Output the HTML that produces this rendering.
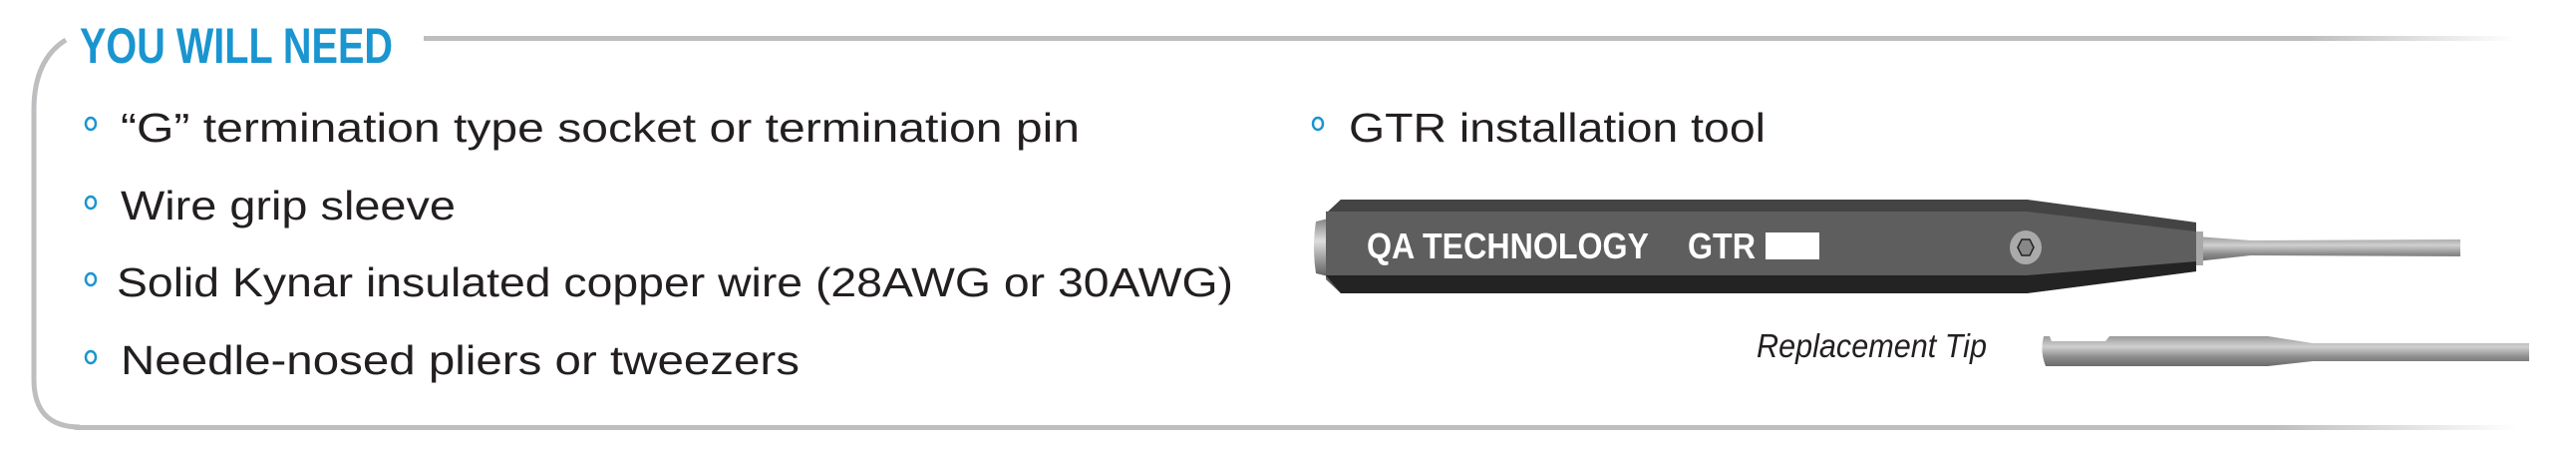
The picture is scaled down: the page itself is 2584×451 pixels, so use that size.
<!DOCTYPE html>
<html><head><meta charset="utf-8"><style>
html,body{margin:0;padding:0;background:#fff;}
svg{display:block}
</style></head><body>
<svg width="2584" height="451" viewBox="0 0 2584 451" xmlns="http://www.w3.org/2000/svg">
<defs>
<linearGradient id="fade" x1="0" x2="1" y1="0" y2="0">
<stop offset="0" stop-color="#bcbec0"/><stop offset="0.9" stop-color="#bcbec0"/><stop offset="1" stop-color="#bcbec0" stop-opacity="0"/>
</linearGradient>
<linearGradient id="rod" x1="0" x2="0" y1="0" y2="1">
<stop offset="0" stop-color="#9a9a9a"/><stop offset="0.35" stop-color="#d0d0d0"/><stop offset="0.7" stop-color="#8c8c8c"/><stop offset="1" stop-color="#6a6a6a"/>
</linearGradient>
<linearGradient id="cap" x1="0" x2="0" y1="0" y2="1">
<stop offset="0" stop-color="#777"/><stop offset="0.4" stop-color="#ddd"/><stop offset="1" stop-color="#555"/>
</linearGradient>
</defs>
<!-- frame -->
<rect x="425" y="36" width="2100" height="5" fill="url(#fade)"/>
<rect x="75" y="426" width="2450" height="5" fill="url(#fade)"/>
<path d="M66 40 Q34 60 34 110 L34 380 Q34 428 80 428" fill="none" stroke="#bcbec0" stroke-width="5"/>
<text x="80" y="63" font-family="Liberation Sans Narrow, Liberation Sans, sans-serif" font-weight="bold" font-size="50" fill="#1a95d0" textLength="314" lengthAdjust="spacingAndGlyphs">YOU WILL NEED</text>
<!-- bullets -->
<g fill="none" stroke="#1a95d0" stroke-width="2.5">
<ellipse cx="91" cy="124" rx="5" ry="6"/>
<ellipse cx="91" cy="203" rx="5" ry="6"/>
<ellipse cx="91" cy="280" rx="5" ry="6"/>
<ellipse cx="91" cy="358" rx="5" ry="6"/>
<ellipse cx="1322" cy="124" rx="5" ry="6"/>
</g>
<g font-family="Liberation Sans Narrow, Liberation Sans, sans-serif" font-size="41" fill="#231f20">
<text x="121" y="142" textLength="962" lengthAdjust="spacingAndGlyphs">“G” termination type socket or termination pin</text>
<text x="121" y="220" textLength="336" lengthAdjust="spacingAndGlyphs">Wire grip sleeve</text>
<text x="117" y="297" textLength="1120" lengthAdjust="spacingAndGlyphs">Solid Kynar insulated copper wire (28AWG or 30AWG)</text>
<text x="121" y="375" textLength="681" lengthAdjust="spacingAndGlyphs">Needle-nosed pliers or tweezers</text>
<text x="1353" y="142" textLength="418" lengthAdjust="spacingAndGlyphs">GTR installation tool</text>
</g>
<!-- tool -->
<path d="M2203 237 L2258 241 L2468 240 L2468 257 L2258 256 L2203 262 Z" fill="url(#rod)"/>
<rect x="2200" y="232" width="10" height="34" fill="#a8a8a8"/>
<path d="M1320 222 Q1316 248 1320 274 L1345 280 L1345 216 Z" fill="url(#cap)"/>
<path d="M1345 200 L2033 200 L2203 223 L2203 272 L2033 294 L1345 294 L1330 280 L1330 214 Z" fill="#5e5e5e"/>
<path d="M1345 200 L2033 200 L2203 223 L2203 232 L2033 212 L1330 212 L1330 214 Z" fill="#444"/>
<path d="M1330 276 L2033 276 L2203 262 L2203 272 L2033 294 L1345 294 Z" fill="#232323"/>
<ellipse cx="2032" cy="248" rx="16" ry="17" fill="#aaa"/>
<polygon points="2024,248 2028,240 2036,240 2040,248 2036,256 2028,256" fill="#888" stroke="#222" stroke-width="1.5"/>
<text x="1371" y="259" font-family="Liberation Sans Narrow, Liberation Sans, sans-serif" font-weight="bold" font-size="36" fill="#fff" textLength="283" lengthAdjust="spacingAndGlyphs">QA TECHNOLOGY</text>
<text x="1693" y="259" font-family="Liberation Sans Narrow, Liberation Sans, sans-serif" font-weight="bold" font-size="36" fill="#fff" textLength="68" lengthAdjust="spacingAndGlyphs">GTR</text>
<rect x="1771" y="233" width="54" height="27" fill="#fff"/>
<!-- replacement tip -->
<text x="1762" y="358" font-family="Liberation Sans Narrow, Liberation Sans, sans-serif" font-style="italic" font-size="33" fill="#231f20" textLength="231" lengthAdjust="spacingAndGlyphs">Replacement Tip</text>
<path d="M2050 337 L2056 337 L2058 342 L2112 342 L2116 337 L2275 337 L2320 344 L2537 344 L2537 362 L2320 362 L2275 367 L2052 367 Q2046 352 2050 337 Z" fill="url(#rod)"/>
</svg>
</body></html>
